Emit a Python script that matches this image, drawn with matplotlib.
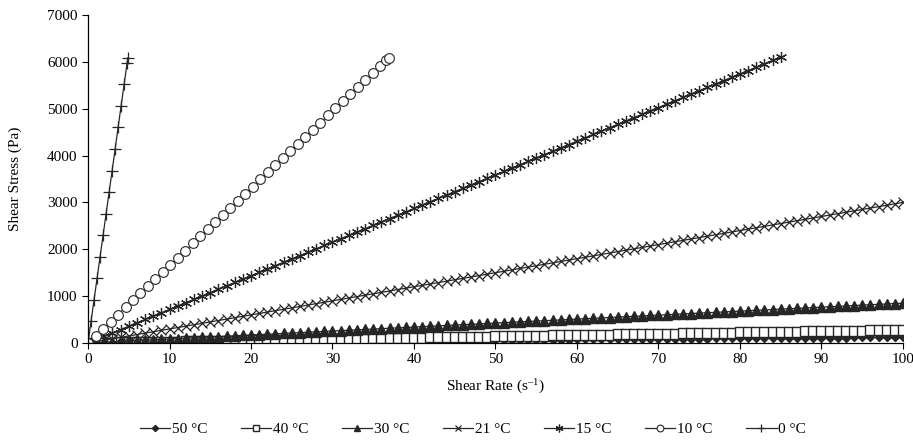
"""Shear stress vs shear rate at seven temperatures."""
import matplotlib
matplotlib.use("Agg")
import matplotlib.pyplot as plt

plt.rcParams["font.family"] = ["Liberation Serif", "DejaVu Serif"]
plt.rcParams["mathtext.fontset"] = "custom"
plt.rcParams["mathtext.rm"] = "Liberation Serif"
plt.rcParams["mathtext.it"] = "Liberation Serif:italic"

# ---- data ------------------------------------------------------------------
rate = [0, 1, 2, 3, 4, 5, 6, 7, 8, 9,
        10, 11, 12, 13, 14, 15, 16, 17, 18, 19,
        20, 21, 22, 23, 24, 25, 26, 27, 28, 29,
        30, 31, 32, 33, 34, 35, 36, 37, 38, 39,
        40, 41, 42, 43, 44, 45, 46, 47, 48, 49,
        50, 51, 52, 53, 54, 55, 56, 57, 58, 59,
        60, 61, 62, 63, 64, 65, 66, 67, 68, 69,
        70, 71, 72, 73, 74, 75, 76, 77, 78, 79,
        80, 81, 82, 83, 84, 85, 86, 87, 88, 89,
        90, 91, 92, 93, 94, 95, 96, 97, 98, 99,
        100]

stress_50 = [0, 1, 3, 4, 5, 6, 8, 9, 10, 11,
             13, 14, 15, 16, 18, 19, 20, 21, 23, 24,
             25, 26, 28, 29, 30, 31, 33, 34, 35, 36,
             38, 39, 40, 41, 43, 44, 45, 46, 48, 49,
             50, 51, 53, 54, 55, 56, 58, 59, 60, 61,
             63, 64, 65, 66, 68, 69, 70, 71, 73, 74,
             75, 76, 78, 79, 80, 81, 83, 84, 85, 86,
             88, 89, 90, 91, 93, 94, 95, 96, 98, 99,
             100, 101, 103, 104, 105, 106, 108, 109, 110, 111,
             113, 114, 115, 116, 118, 119, 120, 121, 123, 124,
             125]

stress_40 = [0, 3, 6, 8, 11, 14, 17, 20, 22, 25,
             28, 31, 34, 36, 39, 42, 45, 48, 50, 53,
             56, 59, 62, 64, 67, 70, 73, 76, 78, 81,
             84, 87, 90, 92, 95, 98, 101, 104, 106, 109,
             112, 115, 118, 120, 123, 126, 129, 132, 134, 137,
             140, 143, 146, 148, 151, 154, 157, 160, 162, 165,
             168, 171, 174, 176, 179, 182, 185, 188, 190, 193,
             196, 199, 202, 204, 207, 210, 213, 216, 218, 221,
             224, 227, 230, 232, 235, 238, 241, 244, 246, 249,
             252, 255, 258, 260, 263, 266, 269, 272, 274, 277,
             280]

stress_30 = [0, 9, 17, 26, 34, 43, 51, 60, 68, 77,
             85, 94, 102, 111, 119, 128, 136, 145, 153, 162,
             170, 179, 187, 196, 204, 213, 221, 230, 238, 247,
             255, 264, 272, 281, 289, 298, 306, 315, 323, 332,
             340, 349, 357, 366, 374, 383, 391, 400, 408, 417,
             425, 434, 442, 451, 459, 468, 476, 485, 493, 502,
             510, 519, 527, 536, 544, 553, 561, 570, 578, 587,
             595, 604, 612, 621, 629, 638, 646, 655, 663, 672,
             680, 689, 697, 706, 714, 723, 731, 740, 748, 757,
             765, 774, 782, 791, 799, 808, 816, 825, 833, 842,
             850]

stress_21 = [0, 30, 60, 90, 120, 150, 180, 210, 240, 270,
             300, 330, 360, 390, 420, 450, 480, 510, 540, 570,
             600, 630, 660, 690, 720, 750, 780, 810, 840, 870,
             900, 930, 960, 990, 1020, 1050, 1080, 1110, 1140, 1170,
             1200, 1230, 1260, 1290, 1320, 1350, 1380, 1410, 1440, 1470,
             1500, 1530, 1560, 1590, 1620, 1650, 1680, 1710, 1740, 1770,
             1800, 1830, 1860, 1890, 1920, 1950, 1980, 2010, 2040, 2070,
             2100, 2130, 2160, 2190, 2220, 2250, 2280, 2310, 2340, 2370,
             2400, 2430, 2460, 2490, 2520, 2550, 2580, 2610, 2640, 2670,
             2700, 2730, 2760, 2790, 2820, 2850, 2880, 2910, 2940, 2970,
             3000]

stress_15 = [0, 72, 144, 215, 287, 359, 431, 503, 574, 646,
             718, 790, 862, 933, 1005, 1077, 1149, 1221, 1292, 1364,
             1436, 1508, 1580, 1651, 1723, 1795, 1867, 1939, 2010, 2082,
             2154, 2226, 2298, 2369, 2441, 2513, 2585, 2657, 2728, 2800,
             2872, 2944, 3016, 3087, 3159, 3231, 3303, 3375, 3446, 3518,
             3590, 3662, 3734, 3805, 3877, 3949, 4021, 4093, 4164, 4236,
             4308, 4380, 4452, 4523, 4595, 4667, 4739, 4811, 4882, 4954,
             5026, 5098, 5170, 5241, 5313, 5385, 5457, 5529, 5600, 5672,
             5744, 5816, 5888, 5959, 6031, 6103]

rate_10 = [0, 0.92, 1.84, 2.76, 3.68, 4.6, 5.52, 6.44, 7.36, 8.28,
           9.2, 10.12, 11.04, 11.96, 12.88, 13.8, 14.72, 15.64, 16.56, 17.48,
           18.4, 19.32, 20.24, 21.16, 22.08, 23.0, 23.92, 24.84, 25.76, 26.68,
           27.6, 28.52, 29.44, 30.36, 31.28, 32.2, 33.12, 34.04, 34.96, 35.88,
           36.55, 36.9]
stress_10 = [0, 152, 304, 455, 607, 759, 911, 1063, 1214, 1366,
             1518, 1670, 1822, 1973, 2125, 2277, 2429, 2581, 2732, 2884,
             3036, 3188, 3340, 3491, 3643, 3795, 3947, 4099, 4250, 4402,
             4554, 4706, 4858, 5009, 5161, 5313, 5465, 5617, 5768, 5920,
             6030, 6090]

rate_0 = [0, 0.37, 0.74, 1.11, 1.48, 1.85, 2.22, 2.59, 2.96, 3.33,
          3.69, 4.06, 4.43, 4.80, 4.88]
stress_0 = [0, 460, 920, 1380, 1840, 2300, 2760, 3220, 3680, 4140,
            4600, 5060, 5520, 5980, 6080]

labels = ["50 °C", "40 °C", "30 °C", "21 °C", "15 °C", "10 °C", "0 °C"]

series = [
    (rate, stress_50, dict(marker="D", ms=4.5, mfc="#262626")),
    (rate, stress_40, dict(marker="s", ms=6.5, mfc="white")),
    (rate, stress_30, dict(marker="^", ms=7, mfc="#262626")),
    (rate, stress_21, dict(marker="x", ms=7, mew=0.9)),
    (rate[:86], stress_15, dict(marker=(6, 2, 0), ms=8, mew=0.9)),
    (rate_10, stress_10, dict(marker="o", ms=7, mfc="white", mew=0.8)),
    (rate_0, stress_0, dict(marker="+", ms=8, mew=0.9)),
]

fig = plt.figure(figsize=(9.13, 4.42), dpi=100)
ax = fig.add_axes([0.0964, 0.224, 0.8926, 0.742])

col = "#262626"
for (x, y, style), lab in zip(series, labels):
    ax.plot(x, y, color=col, lw=0.9, mec=col, label=lab, **style)

ax.set_xlim(0, 100)
ax.set_ylim(0, 7000)
ax.set_xticks(range(0, 101, 10))
ax.set_yticks(range(0, 7001, 1000))
ax.spines["top"].set_visible(False)
ax.spines["right"].set_visible(False)
for s in ("left", "bottom"):
    ax.spines[s].set_linewidth(0.9)
    ax.spines[s].set_color("black")
ax.tick_params(direction="out", length=4, width=0.8, labelsize=11, colors="black")
ax.set_xlabel("Shear Rate (s$^{\u2013\\mathrm{1}}$)", fontsize=11, labelpad=8)
ax.set_ylabel("Shear Stress (Pa)", fontsize=11, labelpad=18)

ax.legend(loc="upper center", bbox_to_anchor=(0.472, -0.2), ncol=7, frameon=False,
          fontsize=11, handlelength=2.0, handletextpad=0.1, columnspacing=2.2,
          markerscale=0.7)

fig.savefig("out.png", dpi=100)
